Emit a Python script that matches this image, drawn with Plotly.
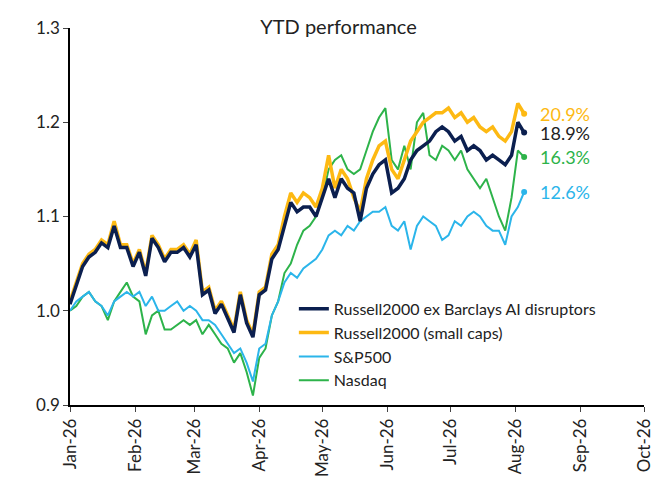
import plotly.graph_objects as go
import pandas as pd

dates = pd.date_range("2026-01-01", periods=73, freq="3D")

russell_ex_ai = [1.007, 1.027, 1.047, 1.057, 1.062, 1.072, 1.067, 1.09, 1.067, 1.067, 1.047, 1.062, 1.037, 1.077,
                 1.067, 1.052, 1.062, 1.062, 1.067, 1.057, 1.07, 1.017, 1.022, 0.997, 1.007, 0.992, 0.977, 1.017,
                 0.987, 0.972, 1.017, 1.022, 1.055, 1.065, 1.09, 1.115, 1.105, 1.11, 1.11, 1.1, 1.12, 1.14, 1.12,
                 1.14, 1.13, 1.125, 1.095, 1.13, 1.145, 1.155, 1.16, 1.125, 1.13, 1.14, 1.16, 1.17, 1.175, 1.18,
                 1.19, 1.195, 1.19, 1.18, 1.185, 1.17, 1.175, 1.17, 1.16, 1.165, 1.16, 1.155, 1.165, 1.2, 1.189]
russell_2000 = [1.01, 1.03, 1.05, 1.06, 1.065, 1.075, 1.07, 1.095, 1.07, 1.07, 1.05, 1.065, 1.04, 1.08,
                1.07, 1.055, 1.065, 1.065, 1.07, 1.06, 1.075, 1.02, 1.025, 1.0, 1.01, 0.995, 0.98, 1.02,
                0.99, 0.975, 1.02, 1.025, 1.06, 1.07, 1.1, 1.125, 1.115, 1.125, 1.12, 1.11, 1.13, 1.165, 1.13,
                1.15, 1.14, 1.12, 1.105, 1.14, 1.16, 1.175, 1.18, 1.15, 1.14, 1.16, 1.18, 1.19, 1.2, 1.205,
                1.21, 1.21, 1.215, 1.205, 1.21, 1.2, 1.205, 1.195, 1.19, 1.195, 1.185, 1.18, 1.19, 1.22, 1.209]
sp500 = [1.0, 1.01, 1.015, 1.02, 1.01, 1.005, 0.995, 1.01, 1.015, 1.02, 1.015, 1.02, 1.005, 1.015,
         1.0, 1.0, 1.005, 1.01, 1.0, 1.005, 1.0, 0.99, 0.99, 0.985, 0.975, 0.965, 0.955, 0.96,
         0.945, 0.925, 0.96, 0.965, 0.995, 1.01, 1.03, 1.04, 1.035, 1.045, 1.05, 1.055, 1.065, 1.08, 1.085,
         1.08, 1.09, 1.085, 1.095, 1.1, 1.105, 1.105, 1.11, 1.09, 1.085, 1.095, 1.065, 1.09, 1.1, 1.095,
         1.09, 1.075, 1.08, 1.095, 1.09, 1.1, 1.105, 1.1, 1.09, 1.085, 1.085, 1.07, 1.1, 1.11, 1.126]
nasdaq = [1.0, 1.005, 1.015, 1.02, 1.01, 1.005, 0.99, 1.01, 1.02, 1.03, 1.015, 1.01, 0.975, 0.995,
          1.0, 0.98, 0.98, 0.985, 0.99, 0.985, 0.99, 0.975, 0.985, 0.975, 0.965, 0.96, 0.945, 0.955,
          0.935, 0.91, 0.95, 0.96, 0.995, 1.01, 1.04, 1.05, 1.07, 1.085, 1.09, 1.1, 1.12, 1.15, 1.16,
          1.165, 1.15, 1.145, 1.15, 1.17, 1.19, 1.205, 1.215, 1.16, 1.15, 1.175, 1.15, 1.2, 1.21, 1.165,
          1.16, 1.175, 1.17, 1.16, 1.17, 1.15, 1.14, 1.13, 1.14, 1.12, 1.1, 1.085, 1.12, 1.17, 1.163]

series = [
    ("Russell2000 ex Barclays AI disruptors", russell_ex_ai, "#0b1f4f", 3.5, "18.9%"),
    ("Russell2000 (small caps)", russell_2000, "#fdb913", 3.5, "20.9%"),
    ("S&P500", sp500, "#2bb5ea", 2, "12.6%"),
    ("Nasdaq", nasdaq, "#2db34a", 2, "16.3%"),
]
label_y = {"20.9%": 1.209, "18.9%": 1.189, "16.3%": 1.163, "12.6%": 1.126}

fig = go.Figure()
# draw order: green, blue, gold, navy on top
for name, vals, color, w, lab in [series[3], series[2], series[1], series[0]]:
    fig.add_trace(go.Scatter(x=dates, y=vals, mode="lines", name=name,
                             line=dict(color=color, width=w)))
    fig.add_trace(go.Scatter(x=[dates[-1]], y=[vals[-1]], mode="markers", showlegend=False,
                             marker=dict(color=color, size=6)))
    fig.add_annotation(x=dates[-1], y=label_y[lab], text=lab, showarrow=False, xanchor="left",
                       xshift=14, font=dict(color=color if color != "#0b1f4f" else "#222", size=18))

fig.update_layout(
    width=661, height=483,
    margin=dict(l=62, r=25, t=20, b=86),
    plot_bgcolor="white", paper_bgcolor="white",
    font=dict(family="Lato", size=16, color="#222"),
    title=dict(text="YTD performance", x=0.5, xanchor="center", y=0.975, font=dict(size=20)),
    legend=dict(x=0.39, y=0.3, xanchor="left", yanchor="top", traceorder="reversed",
                bgcolor="rgba(0,0,0,0)", font=dict(size=16), tracegroupgap=0),
    showlegend=True,
)
fig.update_xaxes(range=["2026-01-01", "2026-10-01"], dtick="M1", tickformat="%b-%y", tickangle=-90,
                 showline=True, linecolor="black", linewidth=1.5, ticks="outside", ticklen=5,
                 showgrid=False, tickfont=dict(size=17), automargin=False)
fig.update_yaxes(range=[0.9, 1.3], dtick=0.1, tickformat=".1f", showline=True, linecolor="black",
                 linewidth=1.5, ticks="outside", ticklen=5, showgrid=False, zeroline=False,
                 tickfont=dict(size=17), automargin=False)

fig.write_html("out.html")
